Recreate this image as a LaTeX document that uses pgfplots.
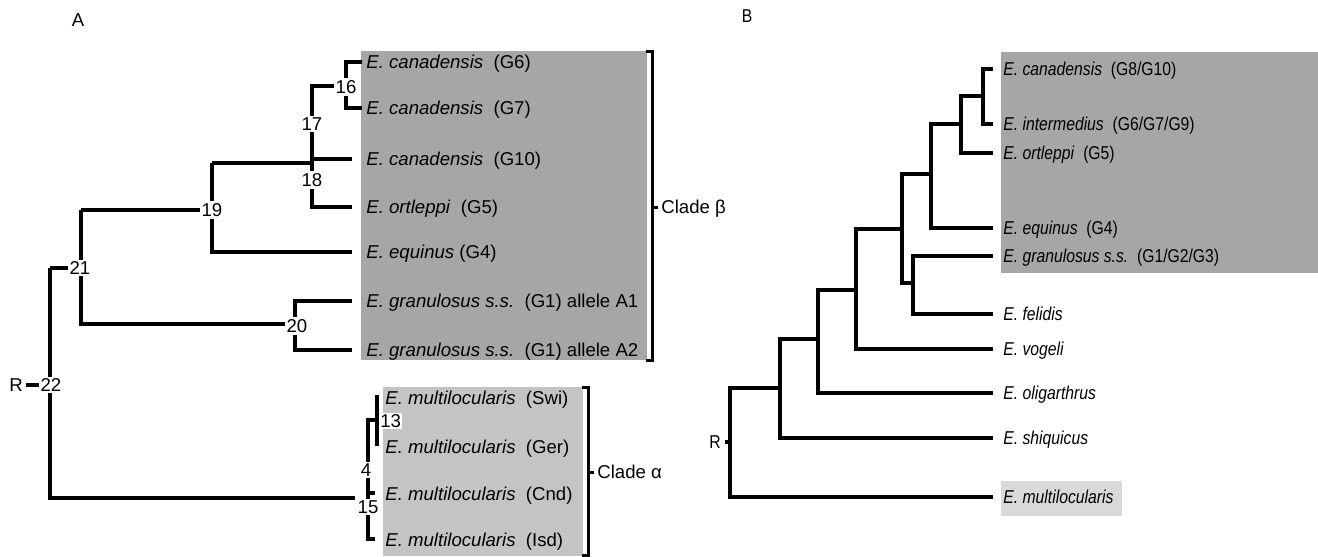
\documentclass[border=0pt]{standalone}
\usepackage{pgfplots}
\pgfplotsset{compat=1.18}
\usepackage{fontspec}
\usepackage{graphicx}
\setmainfont{Liberation Sans}
\definecolor{boxdark}{HTML}{A6A6A6}
\definecolor{boxlightA}{HTML}{C4C4C4}
\definecolor{boxlightB}{HTML}{D9D9D9}
\newcommand{\tb}[1]{\scalebox{0.845}[1]{#1}}
\tikzset{
  every node/.append style={font=\fontsize{9.3}{11}\selectfont},
  tree/.style={black, line width=1.7pt, line join=miter, line cap=butt},
  brk/.style={black, line width=1.5pt, line join=miter, line cap=butt},
  tipA/.style={anchor=base west, yshift=-3.3pt, inner sep=0pt},
  num/.style={fill=white, inner sep=1pt, anchor=center},
}
\begin{document}
\begin{tikzpicture}
\begin{axis}[
  scale only axis, width=659pt, height=278pt,
  xmin=0, xmax=1318, ymin=0, ymax=556, y dir=reverse,
  hide axis, clip=false,
]
\addplot[draw=none] coordinates {(0,0) (1318,556)};
% ---------- boxes ----------
\addplot[fill=boxdark, draw=none] coordinates {(361,51) (647,51) (647,360) (361,360)};
\addplot[fill=boxlightA, draw=none] coordinates {(383,387) (583,387) (583,556) (383,556)};
\addplot[fill=boxdark, draw=none] coordinates {(1001,52) (1318,52) (1318,273) (1001,273)};
\addplot[fill=boxlightB, draw=none] coordinates {(1001,481) (1122,481) (1122,516) (1001,516)};
% ---------- panel A tree ----------
\addplot[tree] coordinates {(362,62) (346,62) (346,108) (362,108)};
\addplot[tree] coordinates {(346,86) (312,86) (312,207) (352,207)};
\addplot[tree] coordinates {(312,159) (352,159)};
\addplot[tree] coordinates {(81,210) (212,210)};
\addplot[tree] coordinates {(212,163) (312,163)};
\addplot[tree] coordinates {(212,163) (212,252) (352,252)};
\addplot[tree] coordinates {(50,268) (81,268)};
\addplot[tree] coordinates {(81,210) (81,324) (295,324)};
\addplot[tree] coordinates {(352,301) (295,301) (295,350) (352,350)};
\addplot[tree] coordinates {(50,268) (50,498) (355,498)};
\addplot[tree] coordinates {(26,385) (50,385)};
\addplot[tree] coordinates {(377,420) (368,420) (368,493) (375,493)};
\addplot[tree] coordinates {(368,493) (368,539) (375,539)};
% numbers
\node[num] at (346,87) {16};
\node[num] at (312,124) {17};
\node[num] at (312,180) {18};
\node[num] at (212,210) {19};
\node[num] at (297,326) {20};
\node[num] at (80,268) {21};
\node[num] at (51,385) {22};
\node[anchor=center, inner sep=0pt] at (16,385) {R};
\node[num] at (366,470) {4};
\node[num] at (368,507) {15};
\node[fill=white, inner sep=0.5pt, anchor=west] at (379,421) {13};
\addplot[tree] coordinates {(377,395) (377,446)};
\node[anchor=center, inner sep=0pt] at (78,20) {A};
% tips A
\node[tipA] at (366,62) {\textit{E. canadensis}\ \ (G6)};
\node[tipA] at (366,108) {\textit{E. canadensis}\ \ (G7)};
\node[tipA] at (366,159) {\textit{E. canadensis}\ \ (G10)};
\node[tipA] at (366,207) {\textit{E. ortleppi}\ \ (G5)};
\node[tipA] at (366,252) {\textit{E. equinus} (G4)};
\node[tipA] at (366,301) {\textit{E. granulosus s.s.}\ \ (G1) allele A1};
\node[tipA] at (366,350) {\textit{E. granulosus s.s.}\ \ (G1) allele A2};
\node[tipA] at (385,398) {\textit{E. multilocularis}\ \ (Swi)};
\node[tipA] at (385,447) {\textit{E. multilocularis}\ \ (Ger)};
\node[tipA] at (385,494) {\textit{E. multilocularis}\ \ (Cnd)};
\node[tipA] at (385,540) {\textit{E. multilocularis}\ \ (Isd)};
% brackets
\addplot[brk] coordinates {(646,51) (652,51) (652,360) (646,360)};
\addplot[brk] coordinates {(652,207) (658,207)};
\node[tipA] at (661,207) {Clade β};
\addplot[brk] coordinates {(582,387) (588,387) (588,555) (582,555)};
\addplot[brk] coordinates {(588,472) (594,472)};
\node[tipA] at (597,472) {Clade α};
% ---------- panel B tree ----------
\addplot[tree] coordinates {(993,69) (983,69) (983,124) (993,124)};
\addplot[tree] coordinates {(983,96) (961,96) (961,153) (993,153)};
\addplot[tree] coordinates {(961,124) (931,124) (931,228) (993,228)};
\addplot[tree] coordinates {(931,174) (902,174) (902,283) (913,283)};
\addplot[tree] coordinates {(993,256) (913,256) (913,314) (993,314)};
\addplot[tree] coordinates {(902,229) (856,229) (856,349) (993,349)};
\addplot[tree] coordinates {(856,290) (818,290) (818,393) (993,393)};
\addplot[tree] coordinates {(818,339) (780,339) (780,438) (993,438)};
\addplot[tree] coordinates {(780,388) (730,388) (730,497) (993,497)};
\addplot[tree] coordinates {(725,442) (730,442)};
\node[anchor=center, inner sep=0pt] at (715,442) {\tb{R}};
\node[anchor=center, inner sep=0pt] at (747,16) {\tb{B}};
% tips B
\node[tipA] at (1003,69) {\tb{\textit{E. canadensis}\ \ (G8/G10)}};
\node[tipA] at (1003,124) {\tb{\textit{E. intermedius}\ \ (G6/G7/G9)}};
\node[tipA] at (1003,153) {\tb{\textit{E. ortleppi}\ \ (G5)}};
\node[tipA] at (1003,228) {\tb{\textit{E. equinus}\ \ (G4)}};
\node[tipA] at (1003,256) {\tb{\textit{E. granulosus s.s.}\ \ (G1/G2/G3)}};
\node[tipA] at (1003,314) {\tb{\textit{E. felidis}}};
\node[tipA] at (1003,349) {\tb{\textit{E. vogeli}}};
\node[tipA] at (1003,393) {\tb{\textit{E. oligarthrus}}};
\node[tipA] at (1003,438) {\tb{\textit{E. shiquicus}}};
\node[tipA] at (1003,497) {\tb{\textit{E. multilocularis}}};
\end{axis}
\end{tikzpicture}
\end{document}
